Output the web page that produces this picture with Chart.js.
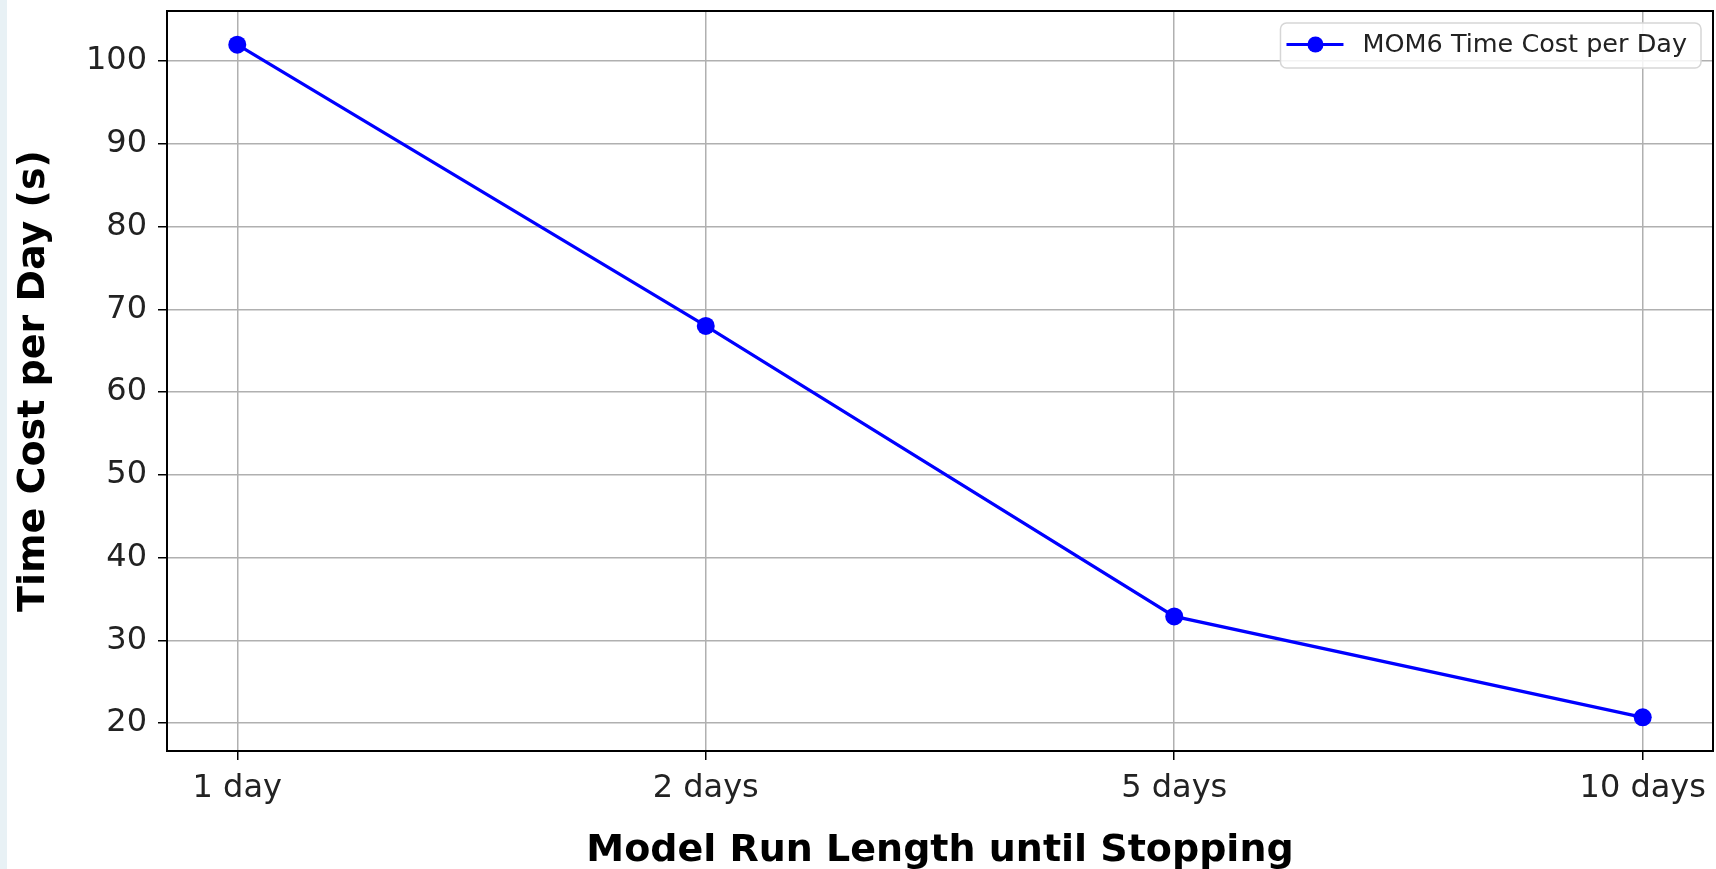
<!DOCTYPE html>
<html>
<head>
    <meta charset="UTF-8">
    <title>MOM6 Time Cost per Day</title>
    <script src="https://cdn.jsdelivr.net/npm/chart.js@4"></script>
    <style>
        html, body { margin: 0; padding: 0; }
        body {
            width: 1716px; height: 869px; overflow: hidden; position: relative;
            background: linear-gradient(to right, #e8f1f5 0 7px, #ffffff 7px);
        }
        /* o eixo x reserva ~9px a direita, entao o canvas passa um pouco da janela */
        #wrap { position: absolute; left: 0; top: 0; width: 1722px; height: 869px; }
    </style>
</head>
<body>
    <div id="wrap"><canvas id="costChart"></canvas></div>
    <script>
        // valores
        const runLengths = ['1 day', '2 days', '5 days', '10 days'];
        const timeCost = [102.0, 68.0, 32.9, 20.7];
        const yTicks = [20, 30, 40, 50, 60, 70, 80, 90, 100];
        const seriesLabel = 'MOM6 Time Cost per Day';

        const FONT = "'DejaVu Sans', sans-serif";
        const BLUE = '#0000ff';

        // margem de 5% como no matplotlib
        const yMin = Math.min(...timeCost), yMax = Math.max(...timeCost);
        const yPad = (yMax - yMin) * 0.05;
        const xPad = (runLengths.length - 1) * 0.05;

        // moldura da area do grafico
        const frame = {
            id: 'frame',
            afterDatasetsDraw(chart) {
                const { ctx, chartArea: a } = chart;
                ctx.save();
                ctx.strokeStyle = '#000';
                ctx.lineWidth = 2;
                ctx.strokeRect(a.left, a.top, a.right - a.left, a.bottom - a.top);
                ctx.restore();
            }
        };

        // legenda estilo matplotlib (linha + marcador)
        const mplLegend = {
            id: 'mplLegend',
            afterDraw(chart) {
                const { ctx, chartArea: a } = chart;
                const ds = chart.data.datasets[0];
                ctx.save();
                ctx.font = "25.5px " + FONT;
                const tw = ctx.measureText(ds.label).width;
                const w = tw + 96, h = 45;
                const x = a.right - 12 - w, y = a.top + 12;
                ctx.beginPath();
                ctx.roundRect(x, y, w, h, 6);
                ctx.fillStyle = 'rgba(255,255,255,0.85)';
                ctx.fill();
                ctx.strokeStyle = '#d6d6d6';
                ctx.lineWidth = 1.5;
                ctx.stroke();
                const cy = y + h / 2 - 1;
                ctx.beginPath();
                ctx.moveTo(x + 6, cy);
                ctx.lineTo(x + 63, cy);
                ctx.strokeStyle = ds.borderColor;
                ctx.lineWidth = 3;
                ctx.stroke();
                ctx.beginPath();
                ctx.arc(x + 35, cy, 8, 0, Math.PI * 2);
                ctx.fillStyle = ds.backgroundColor;
                ctx.fill();
                ctx.fillStyle = '#222';
                ctx.textBaseline = 'middle';
                ctx.fillText(ds.label, x + 82, cy + 1);
                ctx.restore();
            }
        };

        new Chart(document.getElementById('costChart'), {
            type: 'line',
            data: {
                datasets: [{
                    label: seriesLabel,
                    data: runLengths.map((l, i) => ({ x: i, y: timeCost[i] })),
                    borderColor: BLUE,
                    backgroundColor: BLUE,
                    borderWidth: 3.2,
                    pointRadius: 9,
                    pointHoverRadius: 9,
                    pointBorderWidth: 0,
                    tension: 0
                }]
            },
            options: {
                responsive: true,
                maintainAspectRatio: false,
                animation: false,
                layout: { padding: { top: 11, right: 0, left: 0, bottom: 0 } },
                plugins: {
                    legend: { display: false },
                    tooltip: { enabled: false }
                },
                scales: {
                    x: {
                        type: 'linear',
                        min: -xPad,
                        max: runLengths.length - 1 + xPad,
                        afterBuildTicks: s => { s.ticks = runLengths.map((l, i) => ({ value: i })); },
                        afterFit: s => { s.height = 118; s.paddingLeft = 0; s.paddingRight = 0; },
                        ticks: {
                            callback: v => runLengths[v],
                            color: '#222',
                            font: { family: FONT, size: 32 },
                            padding: 9,
                            maxRotation: 0
                        },
                        grid: { color: '#b0b0b0', lineWidth: 1.5, tickColor: '#000', tickLength: 9, tickWidth: 1.5 },
                        border: { display: false },
                        title: {
                            display: true,
                            text: 'Model Run Length until Stopping',
                            color: '#000',
                            font: { family: FONT, size: 38, weight: 'bold', lineHeight: 0.95 },
                            padding: { top: 0, bottom: 0 }
                        }
                    },
                    y: {
                        min: yMin - yPad,
                        max: yMax + yPad,
                        afterBuildTicks: s => { s.ticks = yTicks.map(v => ({ value: v })); },
                        afterFit: s => { s.width = 167; s.paddingTop = 0; s.paddingBottom = 0; },
                        ticks: {
                            color: '#222',
                            font: { family: FONT, size: 32 },
                            padding: 11
                        },
                        grid: { color: '#b0b0b0', lineWidth: 1.5, tickColor: '#000', tickLength: 9, tickWidth: 1.5 },
                        border: { display: false },
                        title: {
                            display: true,
                            text: 'Time Cost per Day (s)',
                            color: '#000',
                            font: { family: FONT, size: 38, weight: 'bold' },
                            padding: { top: 11, bottom: 0 }
                        }
                    }
                }
            },
            plugins: [frame, mplLegend]
        });
    </script>
</body>
</html>
